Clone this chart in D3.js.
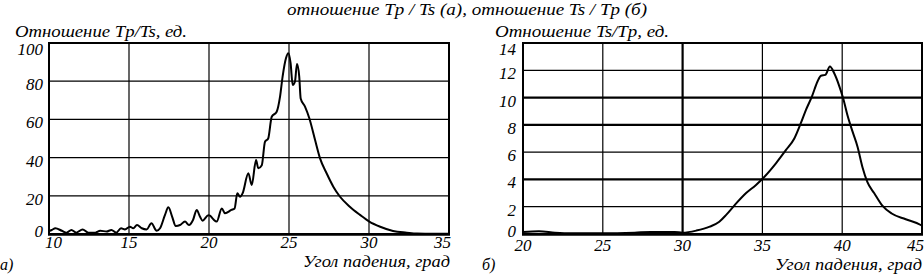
<!DOCTYPE html>
<html><head><meta charset="utf-8">
<script src="https://cdn.jsdelivr.net/npm/d3@7"></script>
</head>
<body style="margin:0"><svg id="c" width="924" height="277"></svg>
<script>
// ---- data (a): Tp/Ts vs angle ----
const angleA = [10.0,10.17,10.4,10.8,11.1,11.4,11.7,12.1,12.46,12.9,13.2,13.6,13.9,14.2,14.5,14.75,15.06,15.27,15.5,15.8,16.1,16.4,16.73,16.94,17.25,17.46,17.7,17.92,18.19,18.5,18.75,19.0,19.23,19.44,19.6,19.96,20.06,20.27,20.48,20.8,21.0,21.4,21.6,21.77,21.94,22.1,22.46,22.67,22.94,23.08,23.3,23.5,23.7,23.92,24.23,24.44,24.6,24.81,24.96,25.1,25.23,25.37,25.5,25.64,25.73,26.0,26.27,26.63,26.94,27.35,27.77,28.19,28.8,29.44,30.02,30.7,31.5,32.36,33.0,34.0,35.0];
const ratioA = [1.5,2.1,3.0,1.7,0.7,2.1,0.7,2.4,0.7,0.7,1.7,1.3,2.1,0.7,3.0,2.4,3.8,3.0,4.7,3.0,2.4,5.6,1.7,3.0,10,14,9,4.2,4.7,6.5,4.7,7.3,12.6,9,7,9.8,9.6,7.7,6.5,13.4,10.8,12.6,13.4,21.3,19.5,21.3,31.8,25.6,38.7,34.4,36,48.3,50,61.4,64,71.9,82.4,92,94.6,89.4,78,79.7,89,82.4,71,66.7,60.6,49.2,39.6,31.8,24.8,19.5,14.3,10,6.5,3.8,1.6,0.7,0.2,0.1,0.1];
const xTicksA = [10,15,20,25,30,35];
const yTicksA = [0,20,40,60,80,100];

// ---- data (б): Ts/Tp vs angle ----
const angleB = [20,21,22,23,25,27,28,29.5,30.0,30.86,31.7,32.3,32.73,33.25,33.98,34.6,35.13,35.86,36.48,37.0,37.4,37.73,38.1,38.46,38.67,38.94,39.23,39.5,39.8,40.06,40.33,40.65,40.96,41.27,41.58,42.0,42.5,43.1,43.98,44.92,45];
const ratioB = [0.15,0.2,0.1,0.05,0.05,0.1,0.15,0.15,0.1,0.25,0.54,0.9,1.4,2.1,3.0,3.6,4.2,5.2,6.16,7.0,8.1,9.1,10.07,11.2,11.6,11.66,12.27,11.78,10.9,9.95,8.7,7.5,6.4,4.9,3.8,3.0,2.1,1.5,1.08,0.66,0.6];
const xTicksB = [20,25,30,35,40,45];
const yTicksB = [0,2,4,6,8,10,12,14];
const thickB_y = [4,8,10];
const thickB_x = [30];

const titleText = "отношение Tp / Ts (а), отношение Ts / Tp (б)";
const yTitleA = "Отношение Tp/Ts, ед.";
const yTitleB = "Отношение Ts/Tp, ед.";
const xTitle = "Угол падения, град";

const svg = d3.select("#c");
function txt(sel, size){
  return sel.append("text")
    .attr("font-family","Liberation Serif").attr("font-style","italic").attr("font-size",size)
    .style("font-family","'Liberation Serif'","important")
    .style("font-style","italic","important")
    .style("font-size",size+"px","important")
    .style("fill","#000");
}

txt(svg,17).attr("x",287).attr("y",15)
  .attr("textLength",360).attr("lengthAdjust","spacingAndGlyphs").text(titleText);

function panel(o){
  const x = d3.scaleLinear().domain(o.xDomain).range([o.x0,o.x1]);
  const y = d3.scaleLinear().domain(o.yDomain).range([o.yb,o.yt]);
  const g = svg.append("g");
  o.yTicks.slice(1,-1).forEach(v=>{
    g.append("line").attr("x1",o.x0).attr("x2",o.x1).attr("y1",y(v)).attr("y2",y(v))
      .attr("stroke","#000").attr("stroke-width",(o.thickY||[]).includes(v)?2.2:1.2);
  });
  o.xTicks.slice(1,-1).forEach(v=>{
    g.append("line").attr("y1",o.yt).attr("y2",o.yb).attr("x1",x(v)).attr("x2",x(v))
      .attr("stroke","#000").attr("stroke-width",(o.thickX||[]).includes(v)?2.2:1.2);
  });
  g.append("rect").attr("x",o.x0).attr("y",o.yt).attr("width",o.x1-o.x0).attr("height",o.yb-o.yt)
    .attr("fill","none").attr("stroke","#000").attr("stroke-width",2);
  g.append("line").attr("x1",o.x0-1).attr("x2",o.x1+1).attr("y1",o.yb+0.5).attr("y2",o.yb+0.5)
    .attr("stroke","#000").attr("stroke-width",2.5);
  const line = d3.line().x(d=>x(d[0])).y(d=>y(d[1])).curve(d3.curveMonotoneX);
  g.append("path").datum(o.xs.map((v,i)=>[v,o.ys[i]])).attr("d",line)
    .attr("fill","none").attr("stroke","#000").attr("stroke-width",2).attr("stroke-linejoin","round");
  o.yTicks.forEach((v,i)=>{
    let yy = y(v)+9;
    if(i===o.yTicks.length-1) yy = y(v)+12;
    if(i===0) yy = y(v)+3;
    txt(g,17).attr("x",o.yLabX).attr("y",yy).attr("text-anchor","end").text(v);
  });
  o.xTicks.forEach(v=>{
    const w = String(v).length*8.5;
    let left = x(v) - w/2;
    if(left < o.clamp[0]) left = o.clamp[0];
    if(left + w > o.clamp[1]) left = o.clamp[1] - w;
    txt(g,17).attr("x",left).attr("y",o.xLabY).text(v);
  });
  txt(g,16).attr("x",o.yTitleX).attr("y",37)
    .attr("textLength",o.yTitleW).attr("lengthAdjust","spacingAndGlyphs").text(o.yTitle);
  txt(g,16).attr("x",o.xTitleX).attr("y",o.xTitleY)
    .attr("textLength",147).attr("lengthAdjust","spacingAndGlyphs").text(xTitle);
  txt(g,16).attr("x",o.tagX).attr("y",270).text(o.tag);
}

panel({xDomain:[10,35], yDomain:[0,100], x0:49, x1:449, yt:43, yb:234,
  xs:angleA, ys:ratioA, xTicks:xTicksA, yTicks:yTicksA, yLabX:43, xLabY:248,
  clamp:[45,451], yTitle:yTitleA, yTitleX:15, yTitleW:172, xTitleX:303, xTitleY:267, tag:"а)", tagX:0});
panel({xDomain:[20,45], yDomain:[0,14], x0:523, x1:922, yt:43, yb:234,
  xs:angleB, ys:ratioB, xTicks:xTicksB, yTicks:yTicksB, yLabX:516, xLabY:251,
  clamp:[510,924], thickY:thickB_y, thickX:thickB_x,
  yTitle:yTitleB, yTitleX:495, yTitleW:174, xTitleX:775, xTitleY:270, tag:"б)", tagX:482});
</script></body></html>
